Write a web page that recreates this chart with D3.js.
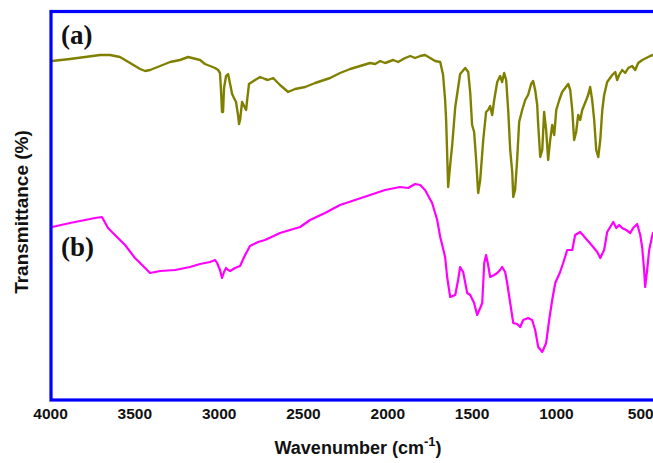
<!DOCTYPE html>
<html>
<head>
<meta charset="utf-8">
<script src="https://cdn.jsdelivr.net/npm/d3@7"></script>
<style>
html,body{margin:0;padding:0;background:#fff;}
svg{display:block;}
</style>
</head>
<body>
<svg id="chart" width="653" height="463"></svg>
<script>
// Wavenumber (cm-1) and transmittance (arbitrary %, offset spectra)
const waveA = [3988,3881,3792,3703,3644,3585,3525,3466,3436,3407,3347,3288,3258,3229,3181,3110,3081,3051,3021,3003,2992,2986,2980,2974,2968,2956,2944,2932,2920,2909,2897,2885,2879,2873,2861,2849,2837,2831,2820,2784,2754,2725,2707,2677,2636,2588,2547,2487,2428,2339,2280,2220,2161,2102,2072,2042,2013,1965,1936,1894,1864,1835,1805,1776,1746,1716,1686,1669,1657,1651,1639,1627,1615,1597,1568,1538,1520,1508,1497,1485,1473,1461,1449,1431,1414,1402,1390,1378,1366,1348,1331,1319,1307,1295,1283,1271,1259,1253,1242,1230,1218,1200,1182,1165,1147,1135,1123,1111,1105,1093,1081,1070,1058,1046,1034,1022,1010,998,980,963,945,927,915,903,892,880,868,856,844,832,820,809,797,785,773,761,749,737,725,714,696,666,648,637,625,607,589,571,548,530,512,488,464,441,423];
const transA = [84.75,85.25,85.75,86.25,86.25,85.75,84.25,82.75,82.25,82.5,83.5,84.5,84.75,85,85.75,85,84,83.5,83,82.5,81.75,77.5,72,72,78,81,81.5,79,76.5,75.5,74.5,71.25,69,70,74.5,73.5,72.5,75,79,80,80.75,80.25,80,80.5,78.75,77,77.75,78.25,79.25,80.5,81.75,82.75,83.5,84.25,84,84.75,84.25,85,84.5,85.5,86,85.5,86,86.25,85.5,84.75,84.5,81.25,75,70,53.25,58.75,63.75,73.25,81.5,83,82,76.75,68.75,67,60,51.75,55,65,72,72.5,73.5,71.25,75,79.5,81,79.5,81.75,80,72.5,62.5,57,50.75,52.5,60,69.5,72.5,75,76.25,79,79.75,77.5,73.75,68.75,60.75,62.5,72,67.5,60,65,68.75,66.25,72.5,75,77,78,79,77.5,72.5,65,67,71.25,70,72.5,73.75,75,76.25,78.25,75,70,62.5,60.75,65,72.5,76.25,79.5,81.25,82,80,81.25,82.5,81.75,83,83.5,82.5,84.25,85,85.5,86,86.25];

const waveB = [3988,3881,3792,3733,3692,3656,3597,3555,3496,3436,3407,3347,3258,3170,3110,3051,3021,3009,2992,2980,2968,2956,2944,2932,2903,2873,2843,2814,2766,2725,2636,2517,2458,2369,2280,2191,2102,2013,1924,1876,1835,1805,1776,1734,1704,1686,1657,1645,1627,1597,1580,1568,1550,1526,1508,1485,1467,1449,1437,1425,1414,1402,1390,1366,1348,1331,1319,1301,1289,1271,1253,1230,1212,1194,1165,1141,1123,1105,1081,1058,1040,1022,1004,975,957,933,903,886,856,815,779,755,737,714,696,678,660,642,625,607,583,559,542,518,500,488,477,471,459,447,429,423];
const transB = [43.25,44.25,45,45.5,45.75,43,40.5,38.75,35.5,33,31.75,32.25,32.5,33.25,34,34.5,35,34.25,32.5,30.5,32,33,32.5,32.25,33,33.5,36.25,38.5,39.5,40,41.75,43.25,45,46.75,48.75,50,51.25,52.5,53.25,53,54,53.75,52.5,49.25,45,40.75,35.75,30.75,25.75,26.25,30,33.25,32,26.75,26.25,24.25,21.25,23,24.25,34.25,36.25,33.75,30.75,31.25,31.75,32.5,33.25,32,29.25,24.25,19.25,19,18.25,20,20.5,20,17.5,13.25,12,14.25,20,25,29.25,32,34.25,37.5,37.5,41.25,42,40,38.25,37,35.5,37.5,42,43.25,44.5,43,43.75,43,42.5,41.75,43,44,41.25,38,32.5,28.25,32.5,37.5,41,42];

const xTicks = [4000,3500,3000,2500,2000,1500,1000,500];
const seriesLabels = ["(a)","(b)"];
const xTitle = "Wavenumber (cm";
const yTitle = "Transmittance (%)";

const svg = d3.select("#chart");
const frame = {left:51, top:11.5, bottom:400, right:662};

const x = d3.scaleLinear().domain([4000, 400]).range([50, 657.1]);
const y = d3.scaleLinear().domain([0, 100]).range([400, 0]);

svg.append("defs").append("clipPath").attr("id","clip")
  .append("rect").attr("x",frame.left).attr("y",frame.top)
  .attr("width",frame.right-frame.left).attr("height",frame.bottom-frame.top);

const line = d3.line().x(d=>x(d[0])).y(d=>y(d[1])).curve(d3.curveLinear);

const g = svg.append("g").attr("clip-path","url(#clip)");
g.append("path").datum(d3.zip(waveA, transA))
  .attr("d", line).attr("fill","none").attr("stroke","#808000")
  .attr("stroke-width",2.4).attr("stroke-linejoin","round");
g.append("path").datum(d3.zip(waveB, transB))
  .attr("d", line).attr("fill","none").attr("stroke","#ff00ff")
  .attr("stroke-width",2.2).attr("stroke-linejoin","round");

// frame
svg.append("rect").attr("x",frame.left).attr("y",frame.top)
  .attr("width",frame.right-frame.left).attr("height",frame.bottom-frame.top)
  .attr("fill","none").attr("stroke","#0000ff").attr("stroke-width",3.2);

// x axis (labels only)
const xAxis = d3.axisBottom(x).tickValues(xTicks).tickFormat(d3.format("d")).tickSize(0).tickPadding(0);
const ax = svg.append("g").attr("transform",`translate(0,${frame.bottom})`).call(xAxis);
ax.select(".domain").remove();
ax.selectAll("text").attr("dy",null).attr("y",19)
  .attr("font-family","Liberation Sans, Arial, sans-serif")
  .attr("font-weight","bold").attr("font-size",15.5).attr("fill","#111");

// axis titles
const xt = svg.append("text").attr("x",358).attr("y",454).attr("text-anchor","middle")
  .attr("font-family","Liberation Sans, Arial, sans-serif").attr("font-weight","bold")
  .attr("font-size",18).attr("fill","#111");
xt.append("tspan").text(xTitle);
xt.append("tspan").attr("font-size",13).attr("dy",-8).text("-1");
xt.append("tspan").attr("dy",8).text(")");

svg.append("text").attr("transform","translate(28,212) rotate(-90)")
  .attr("text-anchor","middle")
  .attr("font-family","Liberation Sans, Arial, sans-serif").attr("font-weight","bold")
  .attr("font-size",19).attr("fill","#111").text(yTitle);

// series labels
svg.append("text").attr("x",61).attr("y",44)
  .attr("font-family","Liberation Serif, Times New Roman, serif").attr("font-weight","bold")
  .attr("font-size",27).attr("fill","#111").text(seriesLabels[0]);
svg.append("text").attr("x",61).attr("y",256)
  .attr("font-family","Liberation Serif, Times New Roman, serif").attr("font-weight","bold")
  .attr("font-size",27).attr("fill","#111").text(seriesLabels[1]);
</script>
</body>
</html>
